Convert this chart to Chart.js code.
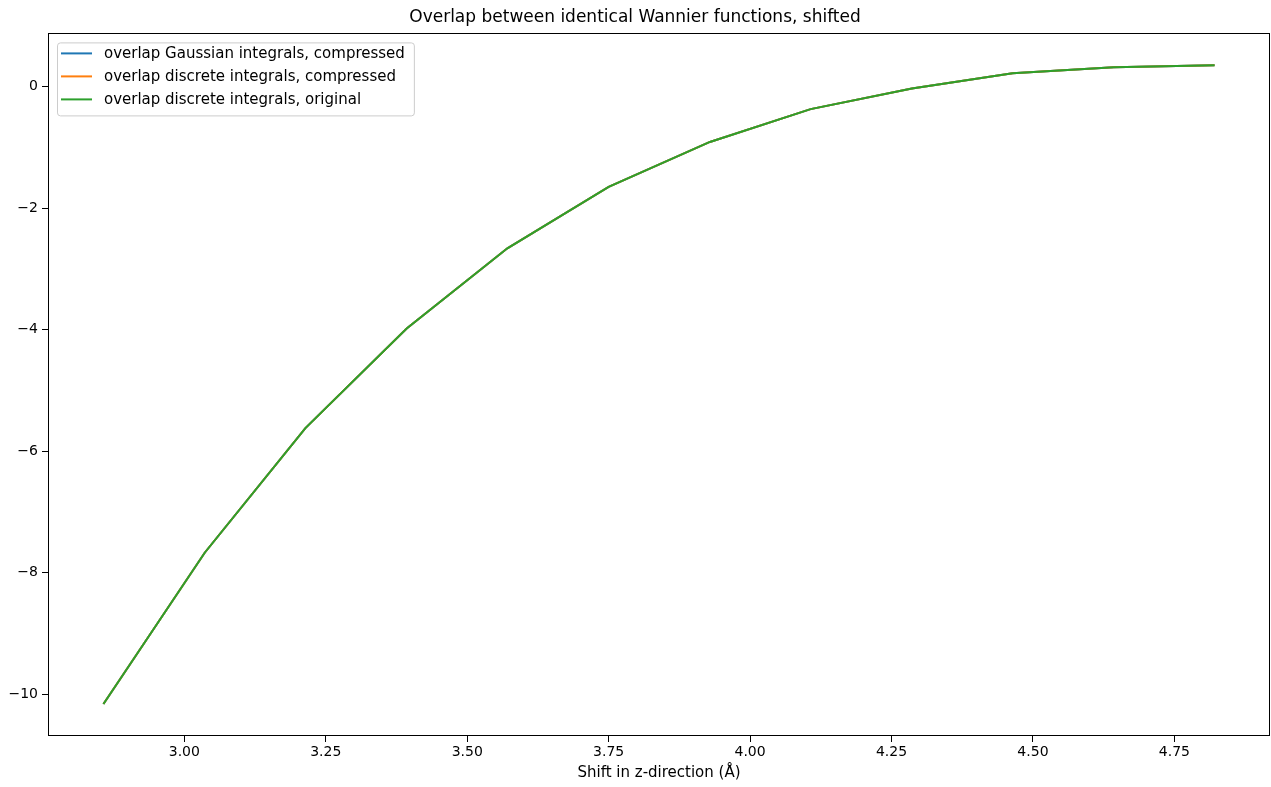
<!DOCTYPE html>
<html>
<head>
<meta charset="utf-8">
<script src="https://cdn.jsdelivr.net/npm/chart.js@4"></script>
<style>
    body { margin: 0; background: #fff; }
    #wrap { width: 1271px; height: 787px; }
</style>
</head>
<body>
<div id="wrap"><canvas id="lineChart" width="1271" height="787"></canvas></div>
<script>
// shift in z-direction (Å)
const shifts = [2.857, 3.036, 3.214, 3.393, 3.571, 3.750, 3.929, 4.107, 4.286, 4.464, 4.643, 4.821];
// overlap values (the three curves coincide)
const gaussianCompressed = [-10.16, -7.67, -5.62, -3.98, -2.66, -1.65, -0.91, -0.37, -0.03, 0.22, 0.32, 0.35];
const discreteCompressed = [-10.16, -7.67, -5.62, -3.98, -2.66, -1.65, -0.91, -0.37, -0.03, 0.22, 0.32, 0.35];
const discreteOriginal = [-10.16, -7.67, -5.62, -3.98, -2.66, -1.65, -0.91, -0.37, -0.03, 0.22, 0.32, 0.35];
const seriesNames = ['overlap Gaussian integrals, compressed', 'overlap discrete integrals, compressed', 'overlap discrete integrals, original'];
const xTicks = [3.00, 3.25, 3.50, 3.75, 4.00, 4.25, 4.50, 4.75];
const yTicks = [-10, -8, -6, -4, -2, 0];

const toPoints = (ys) => ys.map((y, i) => ({ x: shifts[i], y: y }));

// frame round the plot area (matplotlib spines)
const frame = {
    id: 'frame',
    afterDatasetsDraw(chart) {
        const { ctx, chartArea: a } = chart;
        ctx.save();
        ctx.strokeStyle = '#000';
        ctx.lineWidth = 1;
        ctx.strokeRect(Math.round(a.left) + 0.5, Math.round(a.top) + 0.5,
            Math.round(a.right - a.left) - 1, Math.round(a.bottom - a.top) - 1);
        ctx.restore();
    }
};

// legend drawn inside the plot, upper left
const innerLegend = {
    id: 'innerLegend',
    afterDraw(chart) {
        const { ctx, chartArea: a } = chart;
        const sets = chart.data.datasets;
        ctx.save();
        ctx.font = '15px "DejaVu Sans"';
        let w = 0;
        sets.forEach(d => { w = Math.max(w, ctx.measureText(d.label).width); });
        const x0 = a.left + 9, y0 = a.top + 9;
        const bw = 47 + w + 9, bh = 73;
        ctx.beginPath();
        ctx.roundRect(x0 + 0.5, y0 + 0.5, bw, bh, 3);
        ctx.fillStyle = 'rgba(255,255,255,0.8)';
        ctx.fill();
        ctx.strokeStyle = '#cccccc';
        ctx.lineWidth = 1;
        ctx.stroke();
        sets.forEach((d, i) => {
            const y = y0 + 11 + i * 23;
            ctx.beginPath();
            ctx.moveTo(x0 + 4, y);
            ctx.lineTo(x0 + 35, y);
            ctx.strokeStyle = d.borderColor;
            ctx.lineWidth = 2;
            ctx.stroke();
            ctx.fillStyle = '#000';
            ctx.textBaseline = 'middle';
            ctx.fillText(d.label, x0 + 47, y + 1);
        });
        ctx.restore();
    }
};

Chart.defaults.font.family = '"DejaVu Sans"';
Chart.defaults.color = '#000';

const ctx = document.getElementById('lineChart').getContext('2d');
new Chart(ctx, {
    type: 'line',
    data: {
        datasets: [
            { label: seriesNames[0], data: toPoints(gaussianCompressed), borderColor: '#1f77b4', order: 2 },
            { label: seriesNames[1], data: toPoints(discreteCompressed), borderColor: '#ff7f0e', order: 1 },
            { label: seriesNames[2], data: toPoints(discreteOriginal), borderColor: '#2ca02c', order: 0 }
        ]
    },
    options: {
        responsive: false,
        animation: false,
        devicePixelRatio: 1,
        layout: { padding: { left: 0, right: 1, top: 0, bottom: 0 } },
        elements: {
            line: { borderWidth: 2, tension: 0, fill: false },
            point: { radius: 0 }
        },
        plugins: {
            legend: { display: false },
            tooltip: { enabled: false },
            title: {
                display: true,
                text: 'Overlap between identical Wannier functions, shifted',
                font: { size: 17, weight: 'normal' },
                padding: { top: 7, bottom: 6 }
            }
        },
        scales: {
            x: {
                type: 'linear',
                min: 2.759,
                max: 4.919,
                afterBuildTicks: (s) => { s.ticks = xTicks.map(v => ({ value: v })); },
                afterFit: (s) => { s.height = 51; },
                ticks: {
                    font: { size: 14 },
                    padding: 2,
                    maxRotation: 0,
                    callback: (v) => Number(v).toFixed(2)
                },
                grid: { drawOnChartArea: false, drawTicks: true, tickLength: 6, color: '#000' },
                border: { display: false },
                title: {
                    display: true,
                    text: 'Shift in z-direction (Å)',
                    font: { size: 15 },
                    padding: { top: 0, bottom: 5 }
                }
            },
            y: {
                type: 'linear',
                min: -10.686,
                max: 0.876,
                afterBuildTicks: (s) => { s.ticks = yTicks.map(v => ({ value: v })); },
                afterFit: (s) => { s.width = 48; },
                ticks: {
                    font: { size: 14 },
                    padding: 4,
                    callback: (v) => String(v).replace('-', '\u2212')
                },
                grid: { drawOnChartArea: false, drawTicks: true, tickLength: 6, color: '#000' },
                border: { display: false }
            }
        }
    },
    plugins: [frame, innerLegend]
});
</script>
</body>
</html>
